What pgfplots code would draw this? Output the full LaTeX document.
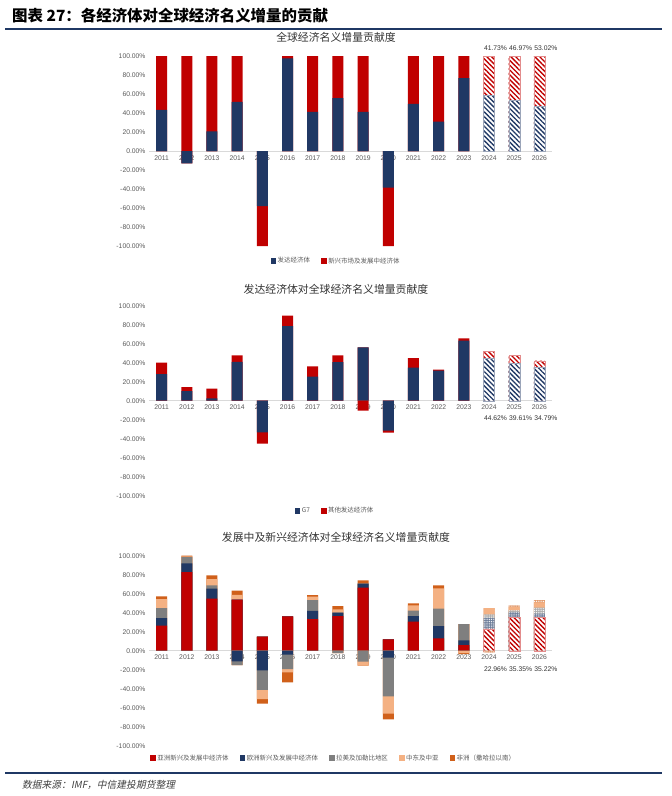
\documentclass[border=0pt]{standalone}
\usepackage{pgfplots}
\pgfplotsset{compat=1.18}
\usepackage{pgfplotstable}
\usepackage{fontspec}
\usetikzlibrary{patterns.meta}
\setmainfont{Liberation Sans}
\newfontfamily\cjk{Noto Sans CJK SC}
\newfontfamily\cjkit{Noto Sans CJK SC}[FakeSlant=0.2]

\definecolor{cnavy}{HTML}{203864}
\definecolor{cred}{HTML}{C00000}
\definecolor{cgray}{HTML}{7F7F7F}
\definecolor{clight}{HTML}{F4B183}
\definecolor{corange}{HTML}{D0601A}
\definecolor{zerogray}{HTML}{D9D9D9}
\definecolor{tickgray}{HTML}{595959}
\definecolor{rulenavy}{HTML}{1F3864}

\newcommand\ticfont{\fontsize{6.8}{8}\selectfont}
\newcommand\legfont{\cjk\fontsize{6.5}{7}\selectfont}
\newcommand\Pp[1]{max(\thisrow{#1},0)}
\newcommand\Nn[1]{min(\thisrow{#1},0)}
\newcommand\pct{\pgfmathprintnumber[fixed,fixed zerofill,precision=2,assume math mode=true]{\pgfplotspointmeta}\%}

% panel 1: developed vs emerging, share of world nominal increment (%)
\pgfplotstableread{
year dev em
2011 43.4 56.6
2012 -13.0 113.0
2013 20.6 79.4
2014 51.7 48.3
2015 -58.0 -42.0
2016 97.5 2.5
2017 41.3 58.7
2018 55.6 44.4
2019 41.3 58.7
2020 -38.5 -61.5
2021 49.7 50.3
2022 30.8 69.2
2023 76.6 23.4
}\gA
\pgfplotstableread{
year dev em
2024 58.27 41.73
2025 53.03 46.97
2026 46.98 53.02
}\gAf

% panel 2: G7 and other advanced
\pgfplotstableread{
year g7 oth
2011 28.0 12.0
2012 10.2 4.2
2013 2.5 10.1
2014 41.0 6.7
2015 -33.3 -12.0
2016 78.6 10.9
2017 25.3 10.8
2018 40.7 7.0
2019 56.1 -10.5
2020 -31.6 -2.1
2021 34.7 10.2
2022 31.6 1.0
2023 63.2 2.4
}\gB
\pgfplotstableread{
year g7 oth
2024 44.62 7.0
2025 39.61 7.8
2026 34.79 7.3
}\gBf

% panel 3: emerging regions
\pgfplotstableread{
year asia eur lat me afr
2011 26.3 8.1 10.5 9.5 2.8
2012 82.8 9.1 6.5 1.0 0.6
2013 54.7 10.6 3.5 6.6 3.9
2014 53.7 -11.2 -3.9 5.2 4.3
2015 14.7 -20.7 -20.4 -9.8 -4.9
2016 36.1 -4.2 -15.1 -3.5 -10.5
2017 33.3 8.5 11.5 3.5 1.8
2018 36.5 3.5 -2.5 3.5 3.5
2019 66.3 4.2 -11.6 -4.2 3.5
2020 11.9 -7.4 -40.7 -18.2 -6.0
2021 30.5 6.0 5.6 5.6 2.1
2022 13.0 13.0 18.2 21.4 3.2
2023 6.0 4.9 17.2 -2.5 -1.2
}\gC
\pgfplotstableread{
year asia eur lat me afr
2024 22.96 11.4 3.8 6.7 -2.0
2025 35.35 5.0 2.1 3.8 1.4
2026 35.22 3.7 6.4 5.6 2.4
}\gCf

\pgfplotsset{
  ov/.style={fill=#1, draw=none, bar shift=0pt, forget plot},
  hatch/.style={fill=white, draw=#1!45, line width=0.4bp, bar shift=0pt, forget plot,
    postaction={pattern={Lines[angle=-45,distance=3.4bp,line width=1.35bp]}, pattern color=#1}},
  dots/.style={fill=#1!65, draw=none, bar shift=0pt, forget plot,
    postaction={pattern={Dots[distance=1.8bp,radius=0.55bp]}, pattern color=white}},
  vlab/.style={only marks, mark=none, forget plot, point meta=explicit,
    nodes near coords=\pct,
    every node near coord/.append style={anchor=center, yshift=#1,
      font=\ticfont, text=black!80, inner sep=0pt}},
  panel/.style={
    at={(149bp,#1)}, anchor=north west, scale only axis,
    width=403bp, height=190bp,
    xmin=2010.5, xmax=2026.5, ymin=-100, ymax=100,
    enlarge x limits=false, enlarge y limits=false,
    ybar, bar width=11bp,
    axis line style={draw=none}, major tick length=0pt,
    xtick={2011,...,2026},
    xticklabels={2011,2012,2013,2014,2015,2016,2017,2018,2019,2020,2021,2022,2023,2024,2025,2026},
    xticklabel style={font=\ticfont, text=tickgray, yshift=94bp},
    ytick={-100,-80,...,100},
    yticklabel={\pgfmathprintnumber[fixed,fixed zerofill,precision=2,assume math mode=true]{\tick}\%},
    yticklabel style={font=\ticfont, text=tickgray},
    extra y ticks={0}, extra y tick labels={},
    extra y tick style={grid=major, major grid style={draw=zerogray, line width=0.8bp}},
    legend image code/.code={\fill[##1] (0bp,-2.4bp) rectangle (4.8bp,2.4bp);},
    legend style={draw=none, fill=none, legend columns=-1, font=\legfont, text=tickgray,
      /tikz/every even column/.append style={column sep=9bp}},
  },
}

\begin{document}
\begin{tikzpicture}
\path[use as bounding box] (0,0) rectangle (672bp,-796bp);

\node[anchor=west, inner sep=0pt, font=\cjk\bfseries\fontsize{15.5}{17}\selectfont] at (12bp,-16bp)
  {图表 27：各经济体对全球经济名义增量的贡献};
\draw[rulenavy, line width=2bp] (5bp,-29bp) -- (662bp,-29bp);

% ---------- panel 1
\begin{axis}[panel=-56bp, clip mode=individual,
  legend style={at={(0.464,-0.079)}, anchor=center}]
\addplot[ov=cred] table[x=year, y expr={\Pp{dev}+\Pp{em}}]{\gA};
\addplot[ov=cnavy] table[x=year, y expr={\Pp{dev}}]{\gA};
\addplot[ov=cred] table[x=year, y expr={\Nn{dev}+\Nn{em}}]{\gA};
\addplot[ov=cnavy] table[x=year, y expr={\Nn{dev}}]{\gA};
\addplot[hatch=cred] table[x=year, y expr={\thisrow{dev}+\thisrow{em}}]{\gAf};
\addplot[hatch=cnavy] table[x=year, y=dev]{\gAf};
\addplot[vlab=8bp] table[x=year, y expr=100, meta=em]{\gAf};
\addlegendimage{cnavy}\addlegendentry{发达经济体}
\addlegendimage{cred}\addlegendentry{新兴市场及发展中经济体}
\end{axis}

% ---------- panel 2
\begin{axis}[panel=-305.7bp,
  legend style={at={(0.4615,-0.08)}, anchor=center}]
\addplot[ov=cred] table[x=year, y expr={\Pp{g7}+\Pp{oth}}]{\gB};
\addplot[ov=cnavy] table[x=year, y expr={\Pp{g7}}]{\gB};
\addplot[ov=cred] table[x=year, y expr={\Nn{g7}+\Nn{oth}}]{\gB};
\addplot[ov=cnavy] table[x=year, y expr={\Nn{g7}}]{\gB};
\addplot[hatch=cred] table[x=year, y expr={\thisrow{g7}+\thisrow{oth}}]{\gBf};
\addplot[hatch=cnavy] table[x=year, y=g7]{\gBf};
\addplot[vlab=-17.4bp] table[x=year, y expr=0, meta=g7]{\gBf};
\addlegendimage{cnavy}\addlegendentry{G7}
\addlegendimage{cred}\addlegendentry{其他发达经济体}
\end{axis}

% ---------- panel 3
\begin{axis}[panel=-555.7bp,
  legend style={at={(0.458,-0.065)}, anchor=center}]
\addplot[ov=corange] table[x=year, y expr={\Pp{asia}+\Pp{eur}+\Pp{lat}+\Pp{me}+\Pp{afr}}]{\gC};
\addplot[ov=clight] table[x=year, y expr={\Pp{asia}+\Pp{eur}+\Pp{lat}+\Pp{me}}]{\gC};
\addplot[ov=cgray] table[x=year, y expr={\Pp{asia}+\Pp{eur}+\Pp{lat}}]{\gC};
\addplot[ov=cnavy] table[x=year, y expr={\Pp{asia}+\Pp{eur}}]{\gC};
\addplot[ov=cred] table[x=year, y expr={\Pp{asia}}]{\gC};
\addplot[ov=corange] table[x=year, y expr={\Nn{asia}+\Nn{eur}+\Nn{lat}+\Nn{me}+\Nn{afr}}]{\gC};
\addplot[ov=clight] table[x=year, y expr={\Nn{asia}+\Nn{eur}+\Nn{lat}+\Nn{me}}]{\gC};
\addplot[ov=cgray] table[x=year, y expr={\Nn{asia}+\Nn{eur}+\Nn{lat}}]{\gC};
\addplot[ov=cnavy] table[x=year, y expr={\Nn{asia}+\Nn{eur}}]{\gC};
\addplot[ov=cred] table[x=year, y expr={\Nn{asia}}]{\gC};
% forecasts
\addplot[dots=corange] table[x=year, y expr={\Pp{asia}+\Pp{eur}+\Pp{lat}+\Pp{me}+\Pp{afr}}]{\gCf};
\addplot[ov=clight] table[x=year, y expr={\Pp{asia}+\Pp{eur}+\Pp{lat}+\Pp{me}}]{\gCf};
\addplot[dots=cgray] table[x=year, y expr={\Pp{asia}+\Pp{eur}+\Pp{lat}}]{\gCf};
\addplot[dots=cnavy] table[x=year, y expr={\Pp{asia}+\Pp{eur}}]{\gCf};
\addplot[hatch=cred] table[x=year, y expr={\Pp{asia}}]{\gCf};
\addplot[dots=corange] table[x=year, y expr={\Nn{asia}+\Nn{eur}+\Nn{lat}+\Nn{me}+\Nn{afr}}]{\gCf};
\addplot[vlab=-18.3bp] table[x=year, y expr=0, meta=asia]{\gCf};
\addlegendimage{cred}\addlegendentry{亚洲新兴及发展中经济体}
\addlegendimage{cnavy}\addlegendentry{欧洲新兴及发展中经济体}
\addlegendimage{cgray}\addlegendentry{拉美及加勒比地区}
\addlegendimage{clight}\addlegendentry{中东及中亚}
\addlegendimage{corange}\addlegendentry{非洲（撒哈拉以南）}
\end{axis}

\node[font=\cjk\fontsize{10.9}{12}\selectfont, text=black!80] at (336bp,-37bp) {全球经济名义增量贡献度};
\node[font=\cjk\fontsize{10.9}{12}\selectfont, text=black!80] at (336bp,-289bp) {发达经济体对全球经济名义增量贡献度};
\node[font=\cjk\fontsize{10.9}{12}\selectfont, text=black!80] at (336bp,-537bp) {发展中及新兴经济体对全球经济名义增量贡献度};

\draw[rulenavy, line width=2bp] (5bp,-773bp) -- (662bp,-773bp);
\node[anchor=west, inner sep=0pt, font=\cjkit\fontsize{9.8}{11}\selectfont, text=black!75] at (22bp,-785bp)
  {数据来源：IMF，中信建投期货整理};
\end{tikzpicture}
\end{document}
